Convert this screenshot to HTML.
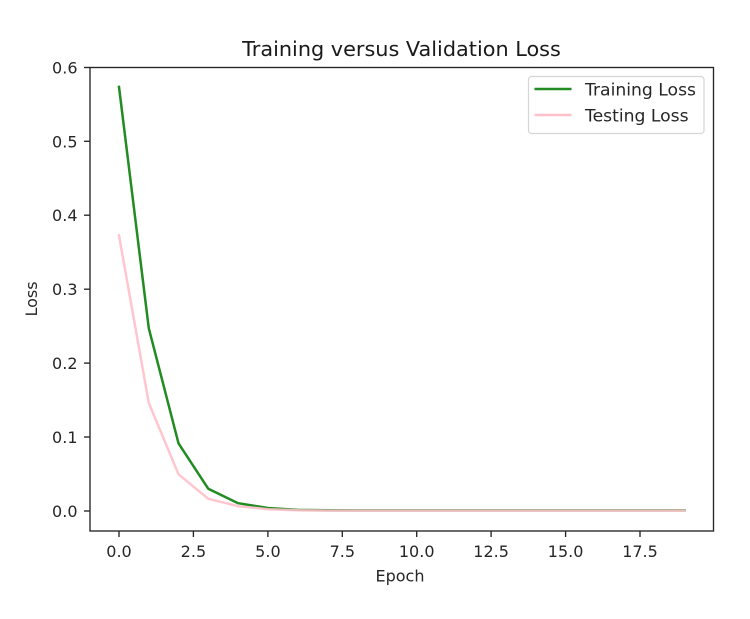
<!DOCTYPE html>
<html>
<head>
<meta charset="utf-8">
<style>
html,body{margin:0;padding:0;background:#fff;}
svg{display:block;}
text{font-family:"DejaVu Sans","Liberation Sans",sans-serif;fill:#262626;}
</style>
</head>
<body>
<svg width="750" height="619" viewBox="0 0 750 619" xmlns="http://www.w3.org/2000/svg">
<rect x="0" y="0" width="750" height="619" fill="#fff"/>
<!-- title -->
<text x="401.5" y="56" font-size="20.8" text-anchor="middle" style="fill:#1a1a1a">Training versus Validation Loss</text>

<!-- series -->
<polyline fill="none" stroke="#228B22" stroke-width="2.5" stroke-linejoin="round" stroke-linecap="square"
 points="119,86.9 148.8,328.3 178.5,443.3 208.3,488.8 238.1,503.2 267.9,508 297.6,509.9 327.4,510.3 357.2,510.4 386.9,510.4 416.7,510.4 446.5,510.4 476.2,510.4 506,510.4 535.8,510.4 565.6,510.4 595.3,510.4 625.1,510.4 654.9,510.4 684.6,510.4"/>
<polyline fill="none" stroke="#FFC0CB" stroke-width="2.5" stroke-opacity="0.9" stroke-linejoin="round" stroke-linecap="square"
 points="119,235.5 148.8,403 178.5,474.3 208.3,498.8 238.1,506.2 267.9,509.2 297.6,510.3 327.4,510.6 357.2,510.6 386.9,510.6 416.7,510.6 446.5,510.6 476.2,510.6 506,510.6 535.8,510.6 565.6,510.6 595.3,510.6 625.1,510.6 654.9,510.6 684.6,510.6"/>

<!-- axes frame -->
<rect x="90" y="67.5" width="623.5" height="463.5" fill="none" stroke="#262626" stroke-width="1.35"/>

<!-- y ticks -->
<g stroke="#262626" stroke-width="1.35">
<line x1="84" y1="511" x2="90" y2="511"/>
<line x1="84" y1="437" x2="90" y2="437"/>
<line x1="84" y1="363.1" x2="90" y2="363.1"/>
<line x1="84" y1="289.2" x2="90" y2="289.2"/>
<line x1="84" y1="215.2" x2="90" y2="215.2"/>
<line x1="84" y1="141.3" x2="90" y2="141.3"/>
<line x1="84" y1="67.5" x2="90" y2="67.5"/>
</g>
<g font-size="16" text-anchor="end">
<text x="77.5" y="517">0.0</text>
<text x="77.5" y="443">0.1</text>
<text x="77.5" y="369.1">0.2</text>
<text x="77.5" y="295.2">0.3</text>
<text x="77.5" y="221.2">0.4</text>
<text x="77.5" y="147.3">0.5</text>
<text x="77.5" y="73.5">0.6</text>
</g>

<!-- x ticks -->
<g stroke="#262626" stroke-width="1.35">
<line x1="119" y1="531" x2="119" y2="537"/>
<line x1="193.4" y1="531" x2="193.4" y2="537"/>
<line x1="267.9" y1="531" x2="267.9" y2="537"/>
<line x1="342.3" y1="531" x2="342.3" y2="537"/>
<line x1="416.7" y1="531" x2="416.7" y2="537"/>
<line x1="491.1" y1="531" x2="491.1" y2="537"/>
<line x1="565.6" y1="531" x2="565.6" y2="537"/>
<line x1="640" y1="531" x2="640" y2="537"/>
</g>
<g font-size="16" text-anchor="middle">
<text x="119" y="557">0.0</text>
<text x="193.4" y="557">2.5</text>
<text x="267.9" y="557">5.0</text>
<text x="342.3" y="557">7.5</text>
<text x="416.7" y="557">10.0</text>
<text x="491.1" y="557">12.5</text>
<text x="565.6" y="557">15.0</text>
<text x="640" y="557">17.5</text>
</g>

<!-- axis labels -->
<text x="400" y="581.5" font-size="16" text-anchor="middle">Epoch</text>
<text transform="translate(37,299) rotate(-90)" font-size="16" text-anchor="middle">Loss</text>

<!-- legend -->
<rect x="528.5" y="76.5" width="175.5" height="57" rx="3" ry="3" fill="#fff" fill-opacity="0.8" stroke="#d6d6d6" stroke-width="1.2"/>
<line x1="534.5" y1="89" x2="571.5" y2="89" stroke="#228B22" stroke-width="2.5"/>
<line x1="534.5" y1="115" x2="571.5" y2="115" stroke="#FFC0CB" stroke-width="2.5"/>
<text x="585" y="95.5" font-size="17.2">Training Loss</text>
<text x="585" y="121.5" font-size="17.2">Testing Loss</text>
</svg>
</body>
</html>
